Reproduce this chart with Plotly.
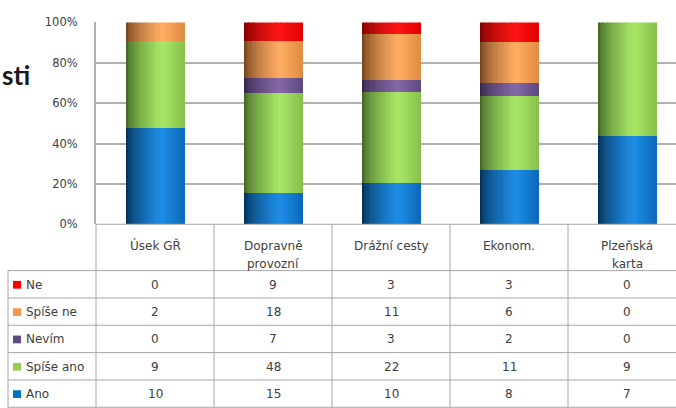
import plotly.graph_objects as go

# ---- data ----
categories = ["Úsek GŘ", "Dopravně provozní", "Drážní cesty", "Ekonom.", "Plzeňská karta"]
header_lines = [["Úsek GŘ"], ["Dopravně", "provozní"], ["Drážní cesty"], ["Ekonom."], ["Plzeňská", "karta"]]
series_names = ["Ano", "Spíše ano", "Nevím", "Spíše ne", "Ne"]  # bottom -> top
ano = [10, 15, 10, 8, 7]
spise_ano = [9, 48, 22, 11, 9]
nevim = [0, 7, 3, 2, 0]
spise_ne = [2, 18, 11, 6, 0]
ne = [0, 9, 3, 3, 0]
series_values = [ano, spise_ano, nevim, spise_ne, ne]
y_ticks = [0, 20, 40, 60, 80, 100]
y_tick_labels = ["0%", "20%", "40%", "60%", "80%", "100%"]
title_fragment = "sti"

# ---- styles ----
W, H = 676, 408
legend_colors = {"Ano": "#0070c0", "Spíše ano": "#92d050", "Nevím": "#604a7b",
                 "Spíše ne": "#f79646", "Ne": "#ff0000"}
# (dark edge, highlight, right edge)
shades = {
    "Ano": ("#00223f", "#1e8ee6", "#0a68b8"),
    "Spíše ano": ("#34521c", "#a8e865", "#86c04c"),
    "Nevím": ("#2a1c3c", "#8468a6", "#5e4880"),
    "Spíše ne": ("#5e3212", "#ffae62", "#e08a42"),
    "Ne": ("#680000", "#ff1414", "#e00000"),
}


def hex2rgb(h):
    h = h.lstrip("#")
    return [int(h[i:i + 2], 16) for i in (0, 2, 4)]


def mix(a, b, t):
    ra, rb = hex2rgb(a), hex2rgb(b)
    return "rgb(%d,%d,%d)" % tuple(round(ra[i] + (rb[i] - ra[i]) * t) for i in range(3))


def shade(name, t):
    d, hi, e = shades[name]
    if t < 0.62:
        return mix(d, hi, (t / 0.62) ** 0.55)
    return mix(hi, e, (t - 0.62) / 0.38)


# ---- layout geometry (pixels) ----
plot_left, plot_top, plot_bottom = 96, 16, 225
col_w = 118
row_h = 28.3
table_left = 8
header_bottom = 273


def px(x):
    return x / W


def py(y):
    return 1 - y / H


# ---- compute percentages ----
totals = [sum(s[i] for s in series_values) for i in range(len(categories))]
pcts = [[v / totals[i] * 100 for i, v in enumerate(s)] for s in series_values]
bases = []
cum = [0.0] * len(categories)
for p in pcts:
    bases.append(list(cum))
    cum = [cum[i] + p[i] for i in range(len(categories))]

fig = go.Figure()
bar_w = 0.5
n_strips = 24
sw = bar_w / n_strips
for si, name in enumerate(series_names):
    for k in range(n_strips):
        t = (k + 0.5) / n_strips
        fig.add_trace(go.Bar(
            x=categories, y=pcts[si], base=bases[si],
            offset=-bar_w / 2 + k * sw, width=sw * 1.08,
            marker=dict(color=shade(name, t), line=dict(width=0)),
            showlegend=False, hoverinfo="skip" if k else None, name=name,
        ))

shapes = []
line_c = "#a6a6a6"
# table horizontal lines
shapes.append(dict(type="line", xref="paper", yref="paper", x0=px(plot_left), x1=1.05,
                   y0=py(plot_bottom), y1=py(plot_bottom), line=dict(color=line_c, width=1)))
for r in range(6):
    yy = header_bottom + r * row_h
    shapes.append(dict(type="line", xref="paper", yref="paper", x0=px(table_left), x1=1.05,
                       y0=py(yy), y1=py(yy), line=dict(color=line_c, width=1)))
# vertical lines
for c in range(len(categories) + 1):
    xx = plot_left + c * col_w
    shapes.append(dict(type="line", xref="paper", yref="paper", x0=px(xx), x1=px(xx),
                       y0=py(plot_bottom), y1=-0.1, line=dict(color=line_c, width=1)))
shapes.append(dict(type="line", xref="paper", yref="paper", x0=px(table_left), x1=px(table_left),
                   y0=py(header_bottom), y1=-0.1, line=dict(color=line_c, width=1)))

annotations = []
font_t = dict(family="DejaVu Sans", size=12, color="#404040")
# header
for ci, lines in enumerate(header_lines):
    cx = plot_left + (ci + 0.5) * col_w
    for li, txt in enumerate(lines):
        annotations.append(dict(x=px(cx), y=py(247 + li * 19), xref="paper", yref="paper",
                                text=txt, showarrow=False, xanchor="center", yanchor="middle",
                                font=font_t))
# rows (top -> bottom: Ne ... Ano)
row_order = list(reversed(range(len(series_names))))
for ri, si in enumerate(row_order):
    cy = header_bottom + (ri + 0.5) * row_h + 0.5
    name = series_names[si]
    shapes.append(dict(type="rect", xref="paper", yref="paper",
                       x0=px(13), x1=px(21), y0=py(cy - 4), y1=py(cy + 4),
                       fillcolor=legend_colors[name], line=dict(width=0)))
    annotations.append(dict(x=px(24), y=py(cy), xref="paper", yref="paper", text=name,
                            showarrow=False, xanchor="left", yanchor="middle", font=font_t))
    for ci in range(len(categories)):
        cx = plot_left + (ci + 0.5) * col_w
        annotations.append(dict(x=px(cx), y=py(cy), xref="paper", yref="paper",
                                text=str(series_values[si][ci]), showarrow=False,
                                xanchor="center", yanchor="middle", font=font_t))
# title fragment
annotations.append(dict(x=0, y=py(70), xref="paper", yref="paper", text="<b>%s</b>" % title_fragment,
                        showarrow=False, xanchor="left", yanchor="middle",
                        font=dict(family="Lato", size=26, color="#1a1a1a")))

fig.update_layout(
    width=W, height=H, margin=dict(l=0, r=0, t=0, b=0),
    paper_bgcolor="white", plot_bgcolor="white", barmode="overlay", bargap=0,
    showlegend=False, shapes=shapes, annotations=annotations,
    xaxis=dict(domain=[px(plot_left), 1], range=[-0.5, -0.5 + (W - plot_left) / col_w],
               showticklabels=False, showgrid=False, zeroline=False, ticks="",
               categoryorder="array", categoryarray=categories),
    yaxis=dict(domain=[py(plot_bottom), py(plot_top)], range=[0, 100], tickmode="array",
               tickvals=y_ticks, ticktext=y_tick_labels,
               showgrid=True, gridcolor="#b0b0b0", gridwidth=2,
               zeroline=False, showline=True, linecolor="#b0b0b0", linewidth=2,
               ticks="", ticklabelstandoff=14,
               tickfont=dict(family="DejaVu Sans", size=11.5, color="#404040")),
)
fig.write_html("out.html")
